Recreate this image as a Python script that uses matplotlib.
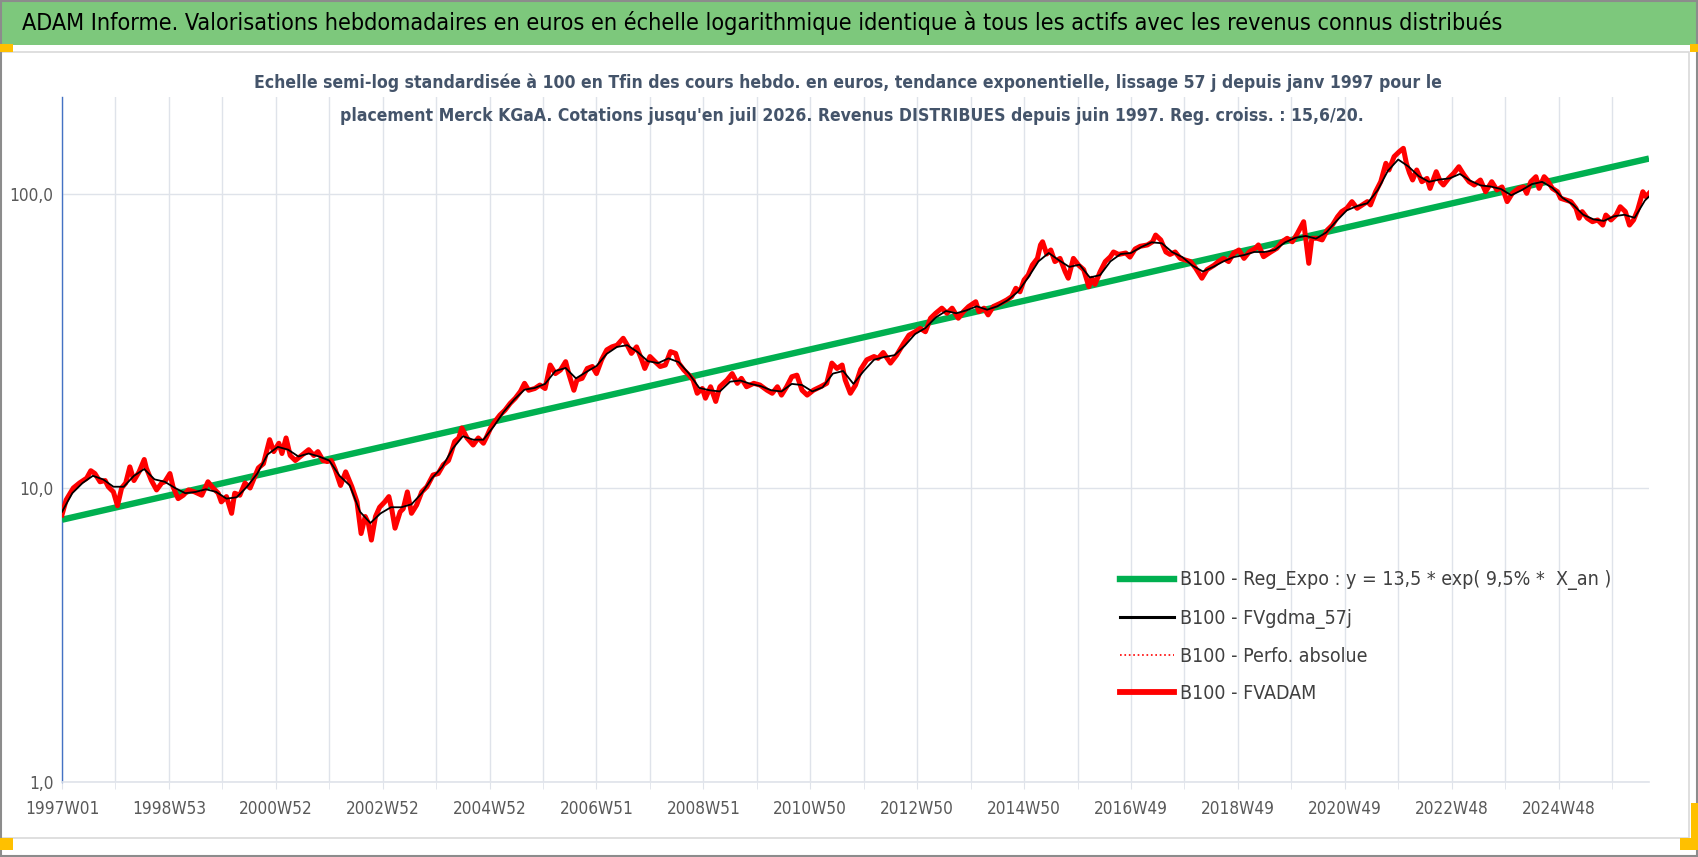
import numpy as np
import matplotlib
matplotlib.use("Agg")
import matplotlib.pyplot as plt
from matplotlib import font_manager
from matplotlib.lines import Line2D
from matplotlib.patches import Rectangle

# ---- data (week index since 1997W01, value base 100) ----
fvadam_week = [0, 4, 11, 17, 24, 28, 32, 37, 42, 45, 50, 54, 58, 62, 66, 70, 75, 80, 82, 87,
               92, 97, 100, 105, 108, 113, 118, 123, 129, 136, 142, 147, 152, 155, 160, 165, 168, 173, 178, 183,
               186, 191, 196, 202, 206, 211, 214, 218, 222, 227, 233, 240, 245, 249, 254, 258, 262, 266, 271, 276,
               282, 287, 291, 295, 298, 301, 305, 309, 314, 318, 321, 324, 329, 332, 336, 340, 345, 350, 355, 361,
               366, 371, 376, 379, 382, 386, 389, 394, 400, 405, 410, 413, 417, 421, 426, 431, 436, 441, 446, 450,
               454, 460, 465, 470, 475, 480, 485, 490, 493, 498, 501, 506, 511, 516, 520, 525, 530, 535, 540, 546,
               550, 554, 559, 564, 567, 572, 577, 582, 587, 592, 597, 600, 605, 610, 614, 618, 623, 626, 631, 636,
               640, 647, 652, 657, 661, 666, 673, 679, 686, 691, 696, 700, 705, 710, 715, 720, 725, 731, 738, 744,
               749, 754, 759, 762, 767, 772, 777, 783, 790, 794, 799, 806, 812, 819, 824, 830, 835, 840, 845, 850,
               856, 861, 866, 872, 877, 882, 889, 892, 897, 901, 906, 913, 919, 924, 928, 932, 936, 940, 944, 949,
               952, 954, 958, 962, 966, 971, 976, 979, 984, 989, 994, 999, 1002, 1005, 1010, 1015, 1020, 1023, 1028, 1035,
               1039, 1044, 1049, 1056, 1061, 1064, 1069, 1074, 1078, 1083, 1088, 1093, 1098, 1103, 1109, 1114, 1121, 1125, 1130, 1135,
               1140, 1145, 1150, 1155, 1161, 1164, 1169, 1176, 1182, 1187, 1192, 1197, 1202, 1208, 1213, 1216, 1221, 1226, 1231, 1236,
               1241, 1245, 1250, 1255, 1260, 1265, 1270, 1273, 1278, 1283, 1288, 1291, 1296, 1301, 1305, 1308, 1311, 1314, 1318, 1323,
               1328, 1331, 1337, 1341, 1344, 1349, 1354, 1359, 1364, 1369, 1374, 1380, 1385, 1391, 1396, 1401, 1406, 1411, 1417, 1422,
               1425, 1429, 1434, 1437, 1442, 1445, 1450, 1455, 1458, 1463, 1468, 1473, 1476, 1479, 1484, 1489, 1494, 1499, 1502, 1507,
               1512, 1516, 1521, 1525, 1529, 1533, 1538, 1541, 1544]
fvadam_val = [8.1, 9.1, 10.0, 10.4, 10.8, 11.45, 11.2, 10.5, 10.6, 10.1, 9.7, 8.7, 10.0, 10.4, 11.8, 10.6, 11.35, 12.5, 11.7, 10.6,
              9.85, 10.4, 10.5, 11.2, 10.1, 9.2, 9.45, 9.85, 9.7, 9.45, 10.5, 10.0, 9.6, 8.97, 9.35, 8.2, 9.6, 9.45, 10.4, 10.0,
              10.6, 11.7, 12.1, 14.6, 13.3, 14.2, 13.1, 14.8, 12.9, 12.4, 12.9, 13.5, 12.9, 13.3, 12.4, 12.3, 12.4, 11.5, 10.2, 11.35,
              10.1, 8.97, 7.0, 8.0, 7.6, 6.65, 8.0, 8.6, 8.97, 9.35, 8.4, 7.3, 8.3, 8.5, 9.7, 8.2, 8.75, 9.7, 10.1, 11.07,
              11.2, 12.0, 12.4, 13.3, 14.4, 14.8, 16.0, 14.8, 14.0, 14.8, 14.2, 14.9, 16.0, 16.8, 17.7, 18.4, 19.4, 20.2, 21.3, 22.7,
              21.5, 21.8, 22.4, 21.8, 26.2, 24.5, 25.2, 26.9, 24.5, 21.5, 23.3, 23.6, 25.5, 25.9, 24.5, 27.3, 29.5, 30.2, 30.6, 32.3,
              30.6, 28.7, 30.2, 27.3, 25.5, 28.0, 26.9, 25.9, 26.2, 29.1, 28.7, 26.6, 25.2, 24.2, 23.3, 21.0, 21.8, 20.2, 22.1, 19.7,
              22.1, 23.3, 24.5, 22.7, 23.6, 22.1, 22.7, 22.4, 21.5, 21.0, 22.1, 20.7, 22.1, 23.9, 24.2, 21.5, 20.7, 21.5, 22.1, 22.7,
              26.6, 25.5, 26.2, 23.3, 21.0, 22.4, 25.3, 27.3, 28.0, 27.6, 28.9, 26.6, 28.3, 31.1, 33.1, 34.0, 34.9, 34.0, 37.8, 39.3,
              40.9, 39.3, 40.9, 37.8, 39.8, 41.4, 43.0, 39.8, 40.9, 38.8, 41.4, 42.5, 43.6, 44.8, 47.8, 46.5, 51.0, 53.0, 57.3, 60.4,
              67.1, 68.8, 62.5, 64.5, 58.9, 60.4, 54.4, 51.7, 60.4, 57.3, 55.3, 48.4, 51.7, 49.3, 54.4, 58.9, 61.2, 63.5, 62.3, 63.0,
              61.0, 65.0, 66.4, 67.1, 68.8, 72.5, 69.8, 63.5, 62.3, 63.5, 60.4, 59.6, 58.9, 55.9, 51.7, 55.3, 57.3, 58.9, 60.4, 58.9,
              63.0, 64.5, 60.4, 63.5, 65.4, 67.1, 61.2, 63.5, 65.4, 68.8, 70.7, 68.8, 73.5, 80.5, 58.1, 70.7, 70.7, 69.8, 75.4, 78.4,
              83.7, 87.1, 89.4, 94.2, 89.4, 91.8, 94.2, 91.8, 101.8, 110.1, 127.2, 120.7, 134.0, 139.3, 143.0, 127.0, 118.0, 111.6, 120.7, 110.1,
              113.0, 104.5, 119.1, 110.1, 107.3, 113.0, 117.6, 123.8, 116.1, 110.1, 107.3, 111.6, 101.8, 110.1, 103.2, 105.7, 94.2, 100.5, 104.5, 105.7,
              100.5, 110.1, 114.5, 104.5, 114.5, 111.6, 104.5, 101.8, 96.7, 95.4, 94.2, 89.4, 82.7, 87.1, 82.7, 80.5, 81.6, 78.4, 84.8, 81.6,
              84.8, 90.5, 87.1, 78.4, 81.6, 88.3, 101.8, 97.9, 100.5]

# smoothed 57 days series (read coarser, mostly hidden under the red line)
gdma_week = list(range(0, 1541, 10)) + [1544]
gdma_val = [8.3, 9.6, 10.4, 11.0, 10.7, 10.1, 10.1, 11.0, 11.6, 10.7,
            10.5, 10.0, 9.6, 9.7, 9.9, 9.7, 9.2, 9.3, 10.1, 11.2,
            13.0, 13.8, 13.5, 12.8, 13.1, 12.8, 12.4, 11.0, 10.2, 8.3,
            7.6, 8.2, 8.6, 8.6, 8.8, 9.6, 10.8, 11.8, 13.6, 15.0,
            14.6, 14.6, 16.2, 18.2, 20.0, 21.6, 21.9, 22.6, 25.0, 25.6,
            23.6, 24.8, 26.0, 28.6, 30.2, 30.6, 29.0, 27.0, 26.6, 27.6,
            26.8, 24.5, 21.9, 21.5, 21.3, 23.0, 23.2, 22.6, 22.2, 21.5,
            21.3, 22.6, 22.4, 21.3, 22.0, 24.5, 25.0, 22.6, 25.0, 27.3,
            27.9, 28.3, 30.5, 33.4, 35.0, 38.0, 40.0, 39.3, 40.2, 41.5,
            40.4, 41.5, 43.5, 46.5, 52.0, 59.0, 63.0, 59.5, 56.5, 57.5,
            52.0, 53.0, 59.0, 62.5, 63.0, 66.0, 68.5, 68.0, 63.5, 61.0,
            57.0, 54.5, 56.5, 59.0, 61.0, 62.0, 63.5, 63.5, 64.5, 68.5,
            71.0, 72.0, 70.5, 74.0, 81.0, 88.0, 91.0, 93.0, 103.0, 120.0,
            131.0, 124.0, 115.0, 110.0, 112.0, 113.0, 117.0, 111.0, 107.0, 106.0,
            104.0, 99.0, 103.0, 108.0, 110.0, 105.0, 97.0, 92.0, 85.0, 82.0,
            81.0, 84.0, 85.0, 83.0, 95.0, 98.0]

# exponential trend: start and end values read on the chart
reg_week = [0, 1544]
reg_val = [7.8, 132.0]

xtick_labels = ["1997W01", "1998W53", "2000W52", "2002W52", "2004W52", "2006W51", "2008W51",
                "2010W50", "2012W50", "2014W50", "2016W49", "2018W49", "2020W49", "2022W48", "2024W48"]
ytick_vals = [1, 10, 100]
ytick_labels = ["1,0", "10,0", "100,0"]

title = ("ADAM Informe. Valorisations hebdomadaires en euros en échelle logarithmique "
         "identique à tous les actifs avec les revenus connus distribués")
sub1 = ("Echelle semi-log standardisée à 100 en Tfin des cours hebdo. en euros, tendance exponentielle, "
        "lissage 57 j depuis janv 1997 pour le")
sub2 = ("placement Merck KGaA. Cotations jusqu'en juil 2026. Revenus DISTRIBUES depuis juin 1997. "
        "Reg. croiss. : 15,6/20.")
leg_labels = ["B100 - Reg_Expo : y = 13,5 * exp( 9,5% *  X_an )", "B100 - FVgdma_57j",
              "B100 - Perfo. absolue", "B100 - FVADAM"]

# ---- fonts ----
names = {f.name for f in font_manager.fontManager.ttflist}
if "Liberation Sans Narrow" in names:
    FONT = "Liberation Sans Narrow"
else:
    FONT = "DejaVu Sans"
plt.rcParams["font.family"] = [FONT, "DejaVu Sans"]
plt.rcParams["font.stretch"] = "condensed"

W, H = 1698, 857
fig = plt.figure(figsize=(W / 100, H / 100), dpi=100)
fig.patch.set_facecolor("white")


def px(x, y):
    return x / W, 1 - y / H


# background decorations (title bar, frames, orange handles)
fig.patches.append(Rectangle(px(0, 45), 1, 43 / H, transform=fig.transFigure,
                             facecolor="#7DC87C", edgecolor="none", zorder=0))
fig.patches.append(Rectangle(px(1, 838), 1688 / W, 786 / H, transform=fig.transFigure,
                             facecolor="none", edgecolor="#D9D9D9", lw=1.2, zorder=0))
fig.patches.append(Rectangle((0.0005, 0.001), 0.999, 0.998, transform=fig.transFigure,
                             facecolor="none", edgecolor="#8C8C8C", lw=1.5, zorder=0))
for (x0, y0, w, h) in [(0, 44, 13, 8), (1690, 44, 8, 8), (0, 838, 13, 12),
                       (1691, 803, 7, 47), (1680, 838, 18, 12)]:
    fig.patches.append(Rectangle(px(x0, y0 + h), w / W, h / H, transform=fig.transFigure,
                                 facecolor="#FFC000", edgecolor="none", zorder=1))


def fit(t, target_w):
    fig.canvas.draw()
    r = fig.canvas.get_renderer()
    w = t.get_window_extent(r).width
    t.set_fontsize(t.get_fontsize() * target_w / w)


t = fig.text(*px(22, 23), title, fontsize=18, color="black", ha="left", va="center")
fit(t, 1478)
s1 = fig.text(*px(848, 83), sub1, fontsize=14, color="#44546A", weight="bold", ha="center", va="center")
fit(s1, 1195)
s2 = fig.text(*px(852, 116), sub2, fontsize=s1.get_fontsize(), color="#44546A", weight="bold",
              ha="center", va="center")

# ---- axes ----
left, right, top, bottom = 62, 1649, 97, 782
ax = fig.add_axes([left / W, 1 - bottom / H, (right - left) / W, (bottom - top) / H])
ax.set_yscale("log")
ax.set_ylim(1, 10 ** ((bottom - top) / 294))
ax.set_xlim(0, 1544)

ax.plot(reg_week, reg_val, color="#00B050", lw=4.6, solid_capstyle="butt", zorder=3)
ax.plot(fvadam_week, fvadam_val, color="#FF0000", lw=1.0, ls=":", zorder=4)
ax.plot(fvadam_week, fvadam_val, color="#FF0000", lw=3.6, zorder=5, solid_joinstyle="round")
ax.plot(gdma_week, gdma_val, color="black", lw=1.3, zorder=6)

grid_c = "#DFE3EA"
ax.set_xticks(np.arange(0, 1545, 52), minor=True)
ax.set_xticks(np.arange(len(xtick_labels)) * 104)
ax.set_xticklabels(xtick_labels)
ax.set_yticks(ytick_vals)
ax.set_yticklabels(ytick_labels)
ax.yaxis.set_minor_locator(matplotlib.ticker.NullLocator())
ax.grid(True, which="both", axis="x", color=grid_c, lw=1.0, zorder=0)
ax.grid(True, which="major", axis="y", color=grid_c, lw=1.0, zorder=0)
ax.tick_params(axis="x", which="both", length=5, color=grid_c, labelsize=12.3,
               labelcolor="#595959", pad=8)
ax.tick_params(axis="y", length=0, labelsize=12.3, labelcolor="#595959", pad=6)
for sp in ["top", "right"]:
    ax.spines[sp].set_visible(False)
ax.spines["left"].set_color("#4472C4")
ax.spines["left"].set_linewidth(1.0)
ax.spines["bottom"].set_color(grid_c)
ax.spines["bottom"].set_linewidth(1.2)
ax.set_axisbelow(True)

handles = [Line2D([], [], color="#00B050", lw=4.6),
           Line2D([], [], color="black", lw=2.2),
           Line2D([], [], color="#FF0000", lw=1.2, ls=":"),
           Line2D([], [], color="#FF0000", lw=4.2)]
fig.legend(handles, leg_labels, loc="upper left", bbox_to_anchor=px(1102, 553),
           frameon=False, fontsize=14, labelcolor="#404040", handlelength=2.8,
           handletextpad=0.3, labelspacing=0.93)

fig.savefig("out.png", dpi=100)
